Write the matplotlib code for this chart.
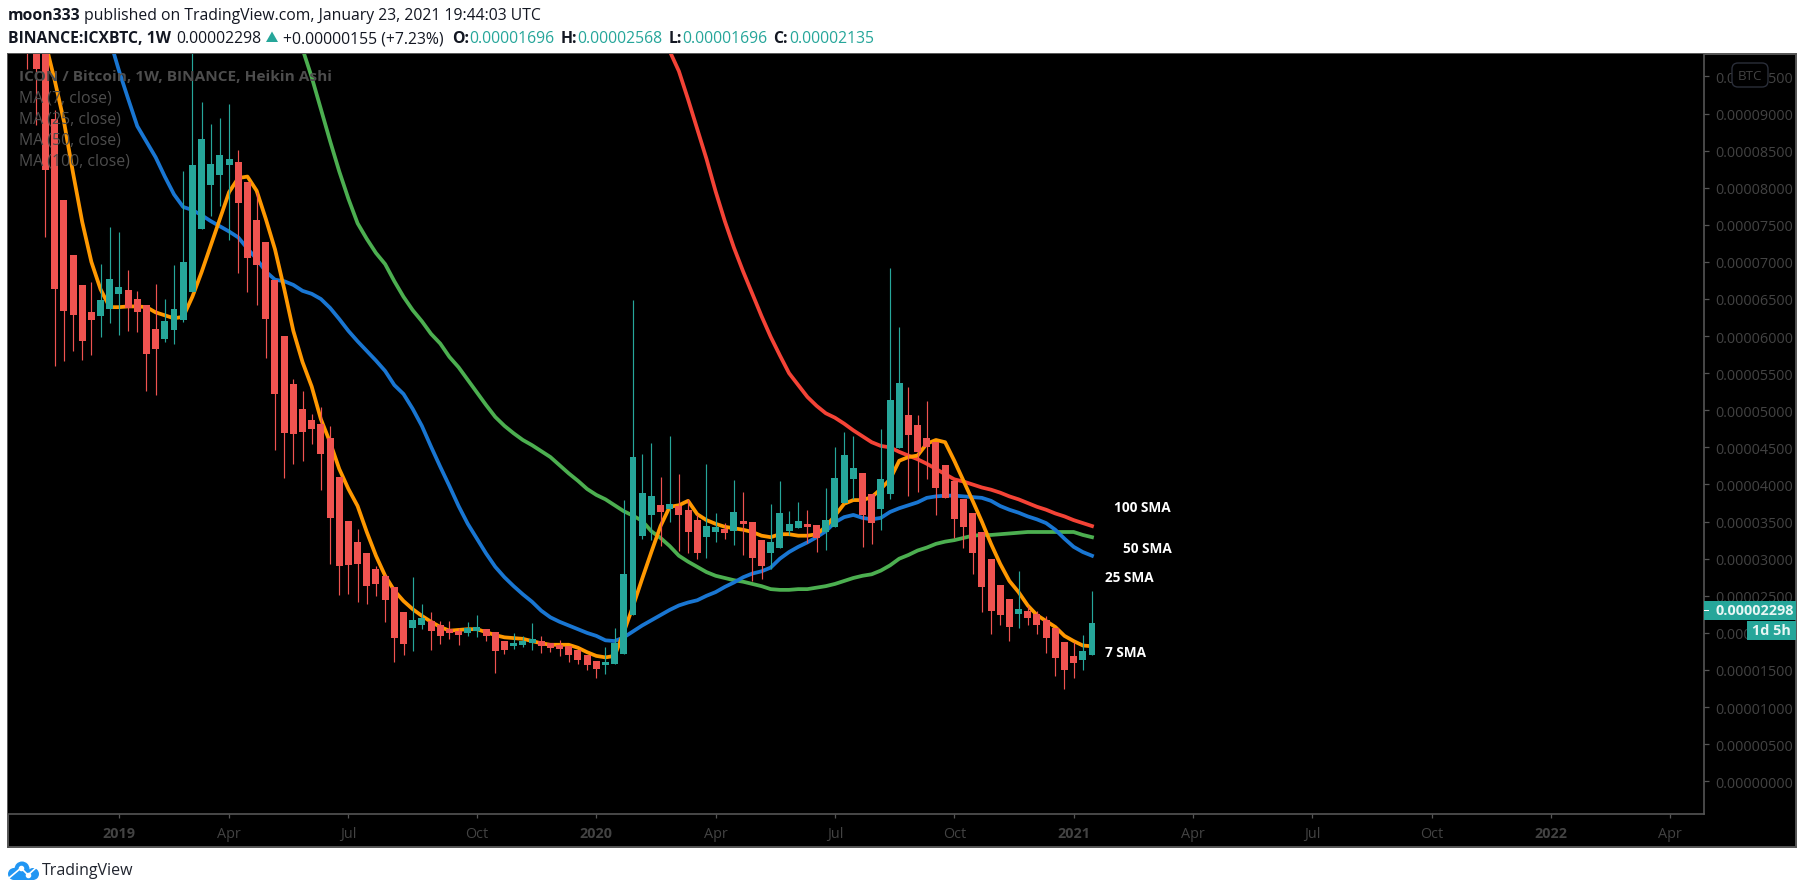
import numpy as np
import matplotlib
matplotlib.use("Agg")
import matplotlib.pyplot as plt
from matplotlib.patches import Circle, Polygon, Rectangle, FancyBboxPatch
from matplotlib.ticker import FuncFormatter

# Prices are in millionths of a BTC. Values run oldest to newest, weekly.
opens = [125, 110, 104, 89.3, 78.3, 70.9, 66.9, 63.2, 62.7, 63.7,
         65.7, 66.2, 65.0, 64.2, 60.9, 59.6, 60.8, 62.2, 66.0, 74.4,
         80.4, 81.7, 83.1, 83.5, 80.8, 75.6, 72.7, 67.6, 60.0, 53.5,
         50.2, 48.7, 48.2, 46.3, 41.0, 35.1, 32.3, 30.8, 28.6, 27.7,
         26.2, 22.8, 20.7, 21.1, 21.6, 21.1, 20.5, 20.3, 20.0, 20.3,
         20.5, 20.1, 18.9, 18.2, 18.4, 18.6, 18.9, 18.6, 18.4, 18.2,
         17.7, 17.0, 16.2, 15.7, 15.8, 17.2, 22.4, 33.1, 35.9, 37.2,
         36.7, 37.1, 36.6, 35.2, 32.9, 33.6, 34.0, 33.7, 35.1, 35.0,
         32.5, 30.8, 31.4, 33.7, 34.1, 34.7, 34.6, 33.6, 34.3, 37.5,
         40.7, 41.6, 38.7, 36.7, 38.7, 44.9, 49.4, 48.0, 46.3, 45.7,
         42.6, 40.5, 38.0, 36.2, 33.6, 30.0, 26.5, 24.6, 22.6, 23.0,
         22.6, 21.7, 20.7, 18.8, 16.9, 16.4, 16.96]
closes = [105, 96.0, 82.4, 66.3, 63.4, 62.9, 59.4, 62.2, 64.9, 67.7,
          66.6, 63.8, 63.2, 57.6, 58.2, 62.0, 63.7, 70.0, 83.1, 86.6,
          83.2, 84.4, 83.9, 77.9, 70.5, 69.6, 62.3, 52.2, 47.0, 46.8,
          47.1, 47.5, 44.1, 35.5, 29.0, 29.2, 29.3, 26.3, 26.6, 24.4,
          19.3, 18.5, 21.7, 22.0, 20.3, 19.6, 20.0, 19.7, 20.7, 20.8,
          19.6, 17.6, 17.7, 18.6, 18.9, 19.2, 18.2, 18.0, 17.8, 17.0,
          16.3, 15.7, 15.2, 16.1, 18.6, 27.9, 43.7, 38.9, 38.5, 36.3,
          37.4, 35.9, 33.6, 30.8, 34.4, 34.3, 33.5, 36.3, 34.7, 30.1,
          29.0, 32.3, 36.2, 34.7, 35.1, 34.3, 32.8, 35.2, 40.9, 44.0,
          42.2, 35.9, 34.8, 40.7, 51.4, 53.7, 46.7, 44.4, 45.1, 39.5,
          38.2, 35.3, 34.3, 30.8, 26.2, 23.0, 22.4, 20.8, 23.2, 22.0,
          21.0, 19.3, 16.6, 15.0, 15.9, 17.6, 21.35]
highs = [130, 118, 108, 90.5, 78.3, 70.9, 66.9, 67.3, 69.7, 74.7,
         74.0, 68.9, 66.1, 64.2, 67.0, 65.0, 69.6, 82.3, 105, 91.6,
         88.6, 89.4, 91.3, 85.1, 80.8, 79.4, 72.7, 67.6, 60.0, 54.2,
         52.6, 49.5, 50.4, 47.9, 41.0, 35.1, 34.0, 30.8, 29.0, 27.9,
         26.2, 22.8, 27.5, 23.9, 22.8, 21.6, 21.6, 20.7, 21.5, 22.4,
         20.5, 20.1, 18.9, 20.0, 19.6, 21.3, 19.6, 18.6, 19.0, 18.2,
         17.7, 17.0, 16.2, 18.1, 20.7, 37.9, 64.9, 44.1, 45.6, 41.0,
         46.5, 41.4, 38.0, 36.0, 42.8, 36.2, 34.8, 40.6, 39.0, 35.0,
         32.5, 37.4, 40.5, 36.4, 37.6, 36.6, 34.6, 39.5, 45.1, 47.1,
         46.5, 41.6, 38.7, 47.5, 69.2, 61.2, 53.1, 49.4, 51.3, 45.7,
         42.6, 40.5, 38.0, 36.2, 33.6, 30.0, 26.5, 24.6, 28.3, 23.6,
         23.0, 22.3, 20.7, 18.8, 18.8, 19.7, 25.68]
lows = [96.0, 88.4, 73.4, 56.0, 56.7, 58.0, 56.8, 57.4, 59.9, 61.8,
        60.1, 60.7, 60.5, 52.6, 52.1, 59.2, 58.9, 61.9, 66.0, 74.4,
        76.2, 77.5, 73.0, 68.5, 66.0, 64.2, 57.0, 44.6, 40.9, 42.8,
        43.2, 45.5, 39.3, 29.3, 25.1, 25.2, 24.2, 23.9, 25.0, 21.5,
        16.1, 17.0, 17.6, 20.5, 17.7, 18.5, 19.2, 18.4, 19.6, 19.4,
        18.9, 14.6, 17.2, 17.8, 18.1, 17.7, 17.3, 17.4, 16.9, 16.1,
        15.8, 15.0, 13.9, 14.5, 15.8, 17.2, 22.4, 32.7, 32.5, 31.7,
        34.9, 31.0, 30.8, 30.0, 30.1, 32.2, 32.7, 31.8, 30.5, 27.0,
        27.3, 28.6, 31.4, 33.2, 34.1, 32.1, 30.9, 31.2, 34.3, 37.5,
        38.0, 31.6, 32.0, 33.9, 38.0, 44.9, 38.5, 39.0, 40.7, 35.9,
        38.2, 32.8, 31.4, 27.9, 22.8, 19.9, 21.0, 18.9, 20.7, 21.0,
        19.9, 17.3, 14.2, 12.4, 13.9, 15.0, 16.96]

ma7 = [99.5, 94.5, 89.0, 82.0, 75.4, 70.0, 66.3, 63.9, 63.9, 64.0,
       64.0, 63.9, 63.2, 62.8, 62.4, 62.6, 65.3, 68.6, 72.2, 75.8,
       79.4, 81.3, 81.5, 79.6, 75.8, 71.7, 66.4, 60.7, 56.5, 53.2,
       48.8, 45.7, 42.1, 39.4, 37.1, 33.6, 30.4, 27.7, 25.7, 24.3,
       23.2, 22.3, 21.5, 20.8, 20.3, 20.4, 20.5, 20.5, 20.1, 19.7,
       19.4, 19.3, 19.2, 18.9, 18.6, 18.4, 18.4, 18.4, 18.0, 17.4,
       16.9, 16.7, 16.9, 20.1, 23.6, 27.3, 30.9, 34.4, 37.0, 37.2,
       37.8, 36.0, 35.2, 34.7, 34.3, 34.1, 33.9, 33.6, 33.1, 32.9,
       33.3, 33.3, 33.1, 33.1, 33.3, 34.3, 35.8, 37.4, 37.9, 37.9,
       38.3, 39.4, 40.7, 43.2, 43.7, 43.9, 45.5, 46.0, 45.7, 43.2,
       40.5, 37.8, 35.0, 32.0, 29.3, 27.0, 25.5, 23.7, 22.4, 21.6,
       20.8, 19.6, 18.9, 18.3, 18.2]
ma25 = [100.0, 95.8, 92.0, 88.3, 86.2, 84.1, 81.5, 79.1, 77.4, 77.0,
        76.3, 75.5, 74.8, 74.1, 73.3, 71.8, 70.4, 68.7, 67.6, 67.4,
        66.9, 66.1, 65.7, 65.0, 63.8, 62.3, 60.7, 59.3, 58.0, 56.7,
        55.3, 53.4, 52.2, 50.2, 47.9, 45.1, 42.4, 39.8, 37.1, 34.7,
        32.7, 30.7, 28.9, 27.5, 26.3, 25.2, 24.2, 23.0, 22.1, 21.5,
        21.0, 20.5, 20.0, 19.6, 19.0, 18.9, 19.4, 20.2, 21.0, 21.7,
        22.4, 23.1, 23.7, 24.1, 24.4, 25.0, 25.5, 26.2, 26.8, 27.5,
        28.0, 28.3, 28.8, 30.0, 30.9, 31.6, 32.2, 32.9, 33.7, 34.9,
        35.6, 35.9, 35.5, 35.3, 35.5, 36.3, 36.8, 37.2, 37.6, 38.2,
        38.4, 38.5, 38.5, 38.4, 38.3, 38.2, 37.8, 37.1, 36.6, 36.2,
        35.7, 35.3, 34.8, 33.9, 32.7, 31.6, 30.9, 30.4]
ma50 = [98.7, 94.9, 90.6, 86.3, 82.2, 78.5, 75.2, 73.1, 71.2, 69.7,
        67.4, 65.3, 63.5, 62.0, 60.3, 59.0, 57.2, 55.8, 54.1, 52.4,
        50.7, 49.1, 47.9, 46.9, 46.0, 45.3, 44.5, 43.7, 42.6, 41.5,
        40.5, 39.4, 38.6, 38.0, 37.2, 36.4, 35.8, 35.1, 33.7, 32.8,
        31.7, 30.4, 29.6, 28.9, 28.2, 27.7, 27.4, 27.1, 26.9, 26.6,
        26.3, 25.9, 25.8, 25.8, 25.9, 25.9, 26.1, 26.3, 26.6, 27.0,
        27.4, 27.7, 27.9, 28.4, 29.1, 30.0, 30.5, 31.1, 31.5, 32.0,
        32.3, 32.5, 32.8, 33.1, 33.2, 33.2, 33.3, 33.4, 33.5, 33.6,
        33.6, 33.6, 33.6, 33.6, 33.6, 33.2, 32.9]
ma100 = [101.0, 98.4, 95.7, 91.9, 87.9, 83.9, 79.5, 75.5, 71.9, 68.7,
         65.7, 62.7, 59.9, 57.4, 55.0, 53.4, 51.8, 50.6, 49.6, 49.0,
         48.2, 47.3, 46.5, 45.7, 45.2, 45.0, 44.4, 43.9, 43.4, 42.8,
         42.1, 41.4, 40.7, 40.4, 40.0, 39.6, 39.3, 38.9, 38.4, 38.0,
         37.5, 37.0, 36.6, 36.1, 35.7, 35.2, 34.8, 34.4]

# Week offsets from the last bar, and what the time axis says there
time_ticks = [-106, -94, -81, -67, -54, -41, -28, -15, -2, 11, 24, 37, 50, 63]
time_labels = ["2019", "Apr", "Jul", "Oct", "2020", "Apr", "Jul", "Oct",
               "2021", "Apr", "Jul", "Oct", "2022", "Apr"]
price_ticks = list(range(0, 100, 5))

W, H = 1805, 895
UP, DOWN = "#26A69A", "#EF5350"
AXIS, MUTED, FONT = "#555555", "#434343", "Open Sans"
plt.rcParams["font.family"] = FONT

fig = plt.figure(figsize=(W / 100, H / 100), dpi=100, facecolor="white")


def px_rect(x0, y0, x1, y1):
    return [x0 / W, 1 - y1 / H, (x1 - x0) / W, (y1 - y0) / H]


back = fig.add_axes(px_rect(8, 55, 1796, 848), facecolor="black", zorder=0)
back.set_xticks([])
back.set_yticks([])
for s in back.spines.values():
    s.set_color(AXIS)
    s.set_linewidth(1.4)

ax = fig.add_axes(px_rect(8, 55, 1704, 815), facecolor="black", zorder=1)
PX_PER_WEEK, PX_PER_UNIT = 9.18, 7.42
ax.set_xlim((8 - 1092) / PX_PER_WEEK, (1704 - 1092) / PX_PER_WEEK)
ax.set_ylim((782.3 - 815) / PX_PER_UNIT, (782.3 - 55) / PX_PER_UNIT)

for series, colour in ((ma100, "#F44336"), (ma50, "#4CAF50"), (ma25, "#1976D2"), (ma7, "#FF9800")):
    xs = np.arange(-len(series) + 1, 1)
    ax.plot(xs, series, color=colour, lw=2.7, zorder=2, solid_joinstyle="round")

weeks = np.arange(-len(opens) + 1, 1)
o, c, hi, lo = map(np.array, (opens, closes, highs, lows))
colours = [UP if b >= a else DOWN for a, b in zip(o, c)]
ax.vlines(weeks, lo, hi, colors=colours, lw=0.85, zorder=3)
ax.bar(weeks, np.abs(c - o), bottom=np.minimum(o, c), width=0.76, color=colours,
       linewidth=0, zorder=4)

for name in ("left", "top"):
    ax.spines[name].set_visible(False)
for name in ("right", "bottom"):
    ax.spines[name].set_color(AXIS)
    ax.spines[name].set_linewidth(1.2)

ax.yaxis.tick_right()
ax.set_yticks(price_ticks)
ax.yaxis.set_major_formatter(FuncFormatter(lambda v, _: f"{v * 1e-6:.8f}"))
ax.tick_params(axis="y", length=3.6, width=0.9, color=AXIS, labelcolor=MUTED,
               labelsize=10.4, pad=4.3)
ax.set_xticks(time_ticks)
ax.set_xticklabels(time_labels)
ax.tick_params(axis="x", length=3, width=0.9, color=AXIS, labelcolor=MUTED,
               labelsize=10.4, pad=6)
for tick_label in ax.get_xticklabels():
    if tick_label.get_text().isdigit():
        tick_label.set_fontweight("bold")

# Overlay in pixel units for the texts and badges around the chart
ov = fig.add_axes([0, 0, 1, 1], zorder=5)
ov.set_xlim(0, W)
ov.set_ylim(H, 0)
ov.axis("off")
ov.patch.set_alpha(0)


def t(x, y, s, size=11.3, color="#131722", weight="normal", ha="left"):
    return ov.text(x, y, s, fontsize=size, color=color, fontweight=weight,
                   ha=ha, va="center", family=FONT)


t(8, 16, "moon333", weight="bold")
t(84, 16, "published on TradingView.com, January 23, 2021 19:44:03 UTC")
t(8, 39, "BINANCE:ICXBTC, 1W", weight="bold")
t(176, 39, "0.00002298")
ov.add_patch(Polygon([[266, 43], [278, 43], [272, 32.5]], closed=True, color=UP, lw=0))
t(283, 39, "+0.00000155 (+7.23%)")
for lx, label, vx, value in ((451.7, "O:", 469.3, "0.00001696"), (560.7, "H:", 577.7, "0.00002568"),
                             (669, "L:", 682.3, "0.00001696"), (773.3, "C:", 789, "0.00002135")):
    t(lx, 39, label, weight="bold")
    t(vx, 39, value, color=UP)

PANE = "#4d4d4d"
t(19, 77, "ICON / Bitcoin, 1W, BINANCE, Heikin Ashi", size=11.1, color=PANE, weight="bold")
for y, s in ((98, "MA (7, close)"), (119, "MA (25, close)"), (140, "MA (50, close)"), (161, "MA (100, close)")):
    t(19, y, s, size=11.4, color=PANE)

for x, y, s in ((1114, 507.7, "100 SMA"), (1123, 549, "50 SMA"), (1105, 578, "25 SMA"), (1105, 652.7, "7 SMA")):
    t(x, y, s, size=9.8, color="white", weight="bold")

# Price badge, countdown badge, currency badge
ov.add_patch(Rectangle((1704, 602), 92, 19, color=UP, lw=0))
ov.add_patch(Rectangle((1704, 611), 5, 1.2, color="white", lw=0))
t(1715, 611, "0.00002298", size=10.4, color="#E8F6F4", weight="bold")
ov.add_patch(Rectangle((1747, 622), 49, 19, color=UP, lw=0))
t(1752, 631, "1d 5h", size=10.4, color="#E8F6F4", weight="bold")
ov.add_patch(FancyBboxPatch((1735, 67), 30, 18, boxstyle="round,pad=3,rounding_size=6",
                            facecolor="black", edgecolor="#2A2E39", lw=1))
t(1750, 76, "BTC", size=9.6, color=MUTED, ha="center")

# TradingView mark
LOGO = "#2196F3"
for cx, cy, r in ((22, 870, 7.5), (14, 875, 6), (33, 875, 6)):
    ov.add_patch(Circle((cx, cy), r, color=LOGO, lw=0))
ov.add_patch(Rectangle((14, 874), 20, 7, color=LOGO, lw=0))
ov.plot([9, 21, 28, 39], [879, 869, 876, 866], color="white", lw=1.2)
ov.plot([21, 28], [869, 876], "o", color="white", ms=3)
t(42, 871, "TradingView", size=11.5, color="#20242E")

fig.savefig("out.png", dpi=100, facecolor="white")
